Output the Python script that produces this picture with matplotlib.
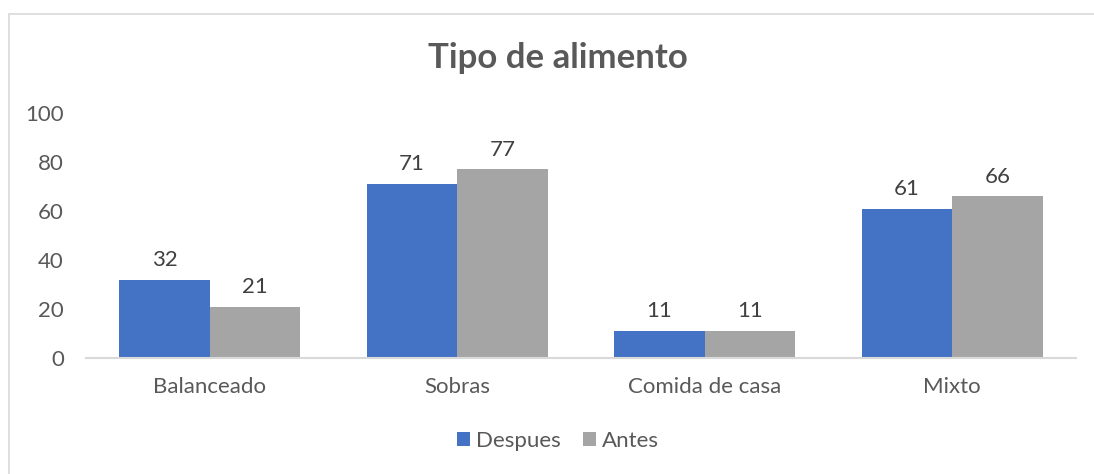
import matplotlib
matplotlib.use("Agg")
import matplotlib.pyplot as plt
import numpy as np
from matplotlib.patches import Rectangle

categories = ["Balanceado", "Sobras", "Comida de casa", "Mixto"]
despues = [32, 71, 11, 61]
antes = [21, 77, 11, 66]
series_names = ["Despues", "Antes"]
yticks = [0, 20, 40, 60, 80, 100]

plt.rcParams['font.family'] = ['Lato', 'DejaVu Sans']

W, H = 1094, 474
fig = plt.figure(figsize=(W/100, H/100), dpi=100)
fig.patch.set_facecolor('white')

# chart border
fig.patches.append(Rectangle((9/W, -0.1), 1.2, (H-14)/H + 0.1, transform=fig.transFigure,
                             fill=False, edgecolor='#D9D9D9', linewidth=1.2))

ax = fig.add_axes([86/W, (H-358)/H, 990/W, 245/H])
x = np.arange(len(categories))
bw = 0.366
b1 = ax.bar(x - bw/2, despues, bw, color='#4472C4', label=series_names[0])
b2 = ax.bar(x + bw/2, antes, bw, color='#A5A5A5', label=series_names[1])

for bars in (b1, b2):
    for r in bars:
        ax.annotate(f"{int(r.get_height())}", (r.get_x() + r.get_width()/2, r.get_height()),
                    xytext=(0, 7), textcoords='offset points', ha='center', va='bottom',
                    fontsize=16, color='#404040')

ax.set_xlim(-0.5, 3.5)
ax.set_ylim(0, 100)
ax.set_yticks(yticks)
ax.set_xticks(x)
ax.set_xticklabels(categories)
ax.tick_params(axis='both', length=0, labelsize=16, labelcolor='#595959')
ax.tick_params(axis='y', pad=16)
ax.tick_params(axis='x', pad=14)
for s in ('left', 'right', 'top'):
    ax.spines[s].set_visible(False)
ax.spines['bottom'].set_color('#D9D9D9')
ax.spines['bottom'].set_linewidth(1.5)

fig.text(558/W, 1 - 58/H, "Tipo de alimento", ha='center', va='center',
         fontsize=25, fontweight='bold', color='#595959')

leg = fig.legend(handles=[b1, b2], labels=series_names, loc='center',
                 bbox_to_anchor=(558/W, 1 - 441/H), ncol=2, frameon=False,
                 fontsize=16, handlelength=0.6, handleheight=0.6, handletextpad=0.25,
                 columnspacing=1.0, labelcolor='#595959')

fig.savefig("out.png", dpi=100)
